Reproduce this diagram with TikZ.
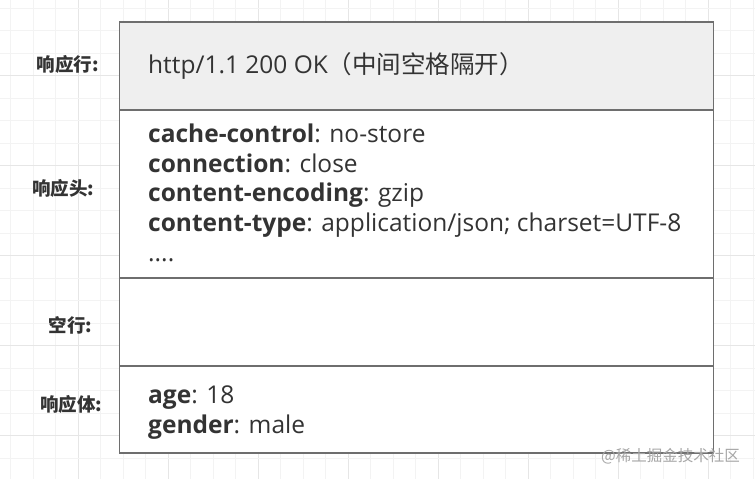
\documentclass[tikz,border=0pt]{standalone}
\usepackage{fontspec}
\setmainfont{Open Sans}
\newfontfamily\cjk{Noto Sans CJK SC}
\definecolor{txt}{HTML}{333333}
\definecolor{edge}{HTML}{6E6E6E}
\definecolor{hdr}{HTML}{EFEFEF}
\definecolor{gminor}{HTML}{F3F3F3}
\definecolor{gmajor}{HTML}{E6E6E6}
\begin{document}
\begin{tikzpicture}[x=1bp,y=-1bp,
  lbl/.style={font=\cjk\bfseries\fontsize{18.5bp}{20bp}\selectfont,text=txt,inner sep=0pt,anchor=base},
  line/.style={font=\fontsize{24.5bp}{28bp}\selectfont,text=txt,inner sep=0pt,anchor=base west},
  rowbox/.style={draw=edge,line width=1.5bp,minimum width=594bp,anchor=north west,inner sep=0pt,outer sep=0pt}]
\useasboundingbox (0,0) rectangle (755,479);
\fill[white] (0,0) rectangle (755,479);
% grid
\foreach \i in {0,...,33} {
  \pgfmathsetmacro{\gx}{10.7+22.5*\i}
  \pgfmathtruncatemacro{\m}{mod(\i,4)==3}
  \ifnum\m=1 \draw[gmajor,line width=1bp] (\gx,0) -- (\gx,479);
  \else \draw[gminor,line width=1bp] (\gx,0) -- (\gx,479); \fi
}
\foreach \i in {0,...,21} {
  \pgfmathsetmacro{\gy}{8.3+22.5*\i}
  \pgfmathtruncatemacro{\m}{mod(\i,4)==3}
  \ifnum\m=1 \draw[gmajor,line width=1bp] (0,\gy) -- (755,\gy);
  \else \draw[gminor,line width=1bp] (0,\gy) -- (755,\gy); \fi
}
% rows
\node[rowbox,fill=hdr,minimum height=88bp] (r1) at (119.5,22) {};
\node[rowbox,fill=white,minimum height=168bp] (r2) at (119.5,110) {};
\node[rowbox,fill=white,minimum height=88bp] (r3) at (119.5,278) {};
\node[rowbox,fill=white,minimum height=87bp] (r4) at (119.5,366) {};
% labels
\node[lbl] (l1) at (67.5,72) {响应行:};
\node[lbl] (l2) at (63,196) {响应头:};
\node[lbl] (l3) at (70.5,332) {空行:};
\node[lbl] (l4) at (71,411) {响应体:};
% texts
\node[line] (t1) at (148,74) {http/1.1 200 OK{\cjk （中间空格隔开）}};
\node[line] (h1) at (148,143) {\textbf{cache-control}: no-store};
\node[line] (h2) at (148,172.5) {\textbf{connection}: close};
\node[line] (h3) at (148,202) {\textbf{content-encoding}: gzip};
\node[line] (h4) at (148,231.5) {\textbf{content-type}: application/json; charset=UTF-8};
\node[line] (h5) at (148,262) {....};
\node[line] (b1) at (148,403.5) {\textbf{age}: 18};
\node[line] (b2) at (148,433.5) {\textbf{gender}: male};
% watermark
\node[font=\cjk\fontsize{15.5bp}{17bp}\selectfont,text=black!35,inner sep=0pt,anchor=base east] (wm) at (740,461) {@稀土掘金技术社区};
\end{tikzpicture}
\end{document}
